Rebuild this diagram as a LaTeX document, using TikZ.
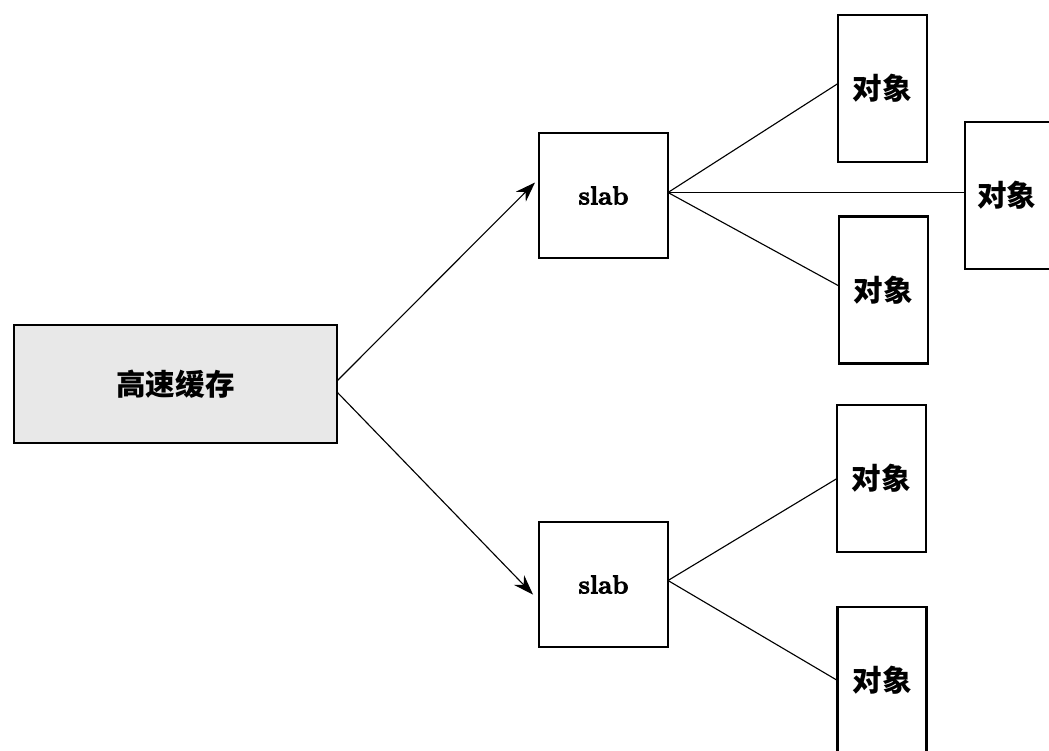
\documentclass[tikz,border=0pt]{standalone}
\usepackage{fontspec}
\newfontfamily\cjk{Noto Sans CJK SC}
\newcommand{\heavytext}[1]{\special{pdf:literal direct 2 Tr 0.6 w}#1\special{pdf:literal direct 0 Tr 0 w}}
\usetikzlibrary{calc,arrows.meta}
\begin{document}
\begin{tikzpicture}[x=0.025cm,y=-0.025cm,
  box/.style={draw=black,line width=1.8pt,inner sep=0pt,outer sep=0pt},
  cachebox/.style={box,fill=black!9,minimum width=323*0.025cm,minimum height=118*0.025cm,font=\cjk\bfseries\fontsize{21}{26}\selectfont},
  slabbox/.style={box,fill=white,minimum width=129*0.025cm,minimum height=125*0.025cm,font=\bfseries\fontsize{18.4}{22}\selectfont},
  objbox/.style={box,fill=white,minimum width=89*0.025cm,minimum height=147*0.025cm,font=\cjk\bfseries\fontsize{21}{26}\selectfont},
  link/.style={line width=0.8pt},
  arr/.style={line width=0.8pt,-{Stealth[length=20*0.025cm,width=14*0.025cm]}}]
\useasboundingbox (0,0) rectangle (1049,750);
\clip (0,0) rectangle (1049,750);
\node[cachebox] (cache) at (175.5,384) {高速缓存};
\node[slabbox] (s1) at (603.5,195.5) {\heavytext{slab}};
\node[slabbox] (s2) at (603.5,584.5) {\heavytext{slab}};
\node[objbox] (o1) at (882.5,88.5) {对象};
\node[objbox] (o2) at (1009.5,195.5) {\hspace*{-2\pgflinewidth}对象};
\node[objbox] (o3) at (883.5,290) {对象};
\node[objbox] (o4) at (881.5,478.5) {对象};
\node[objbox] (o5) at (882,680.5) {对象};
\coordinate (c1) at ($(cache.east)+(0,-3)$);
\coordinate (c2) at ($(cache.east)+(0,8)$);
\coordinate (t1) at ($(s1.west)+(-4,-13)$);
\coordinate (t2) at ($(s2.west)+(-6,10)$);
\draw[arr] (c1) -- (t1);
\draw[arr] (c2) -- (t2);
\coordinate (e1) at ($(s1.east)+(0,-3)$);
\coordinate (e2) at ($(s2.east)+(0,-4)$);
\draw[link] (e1) -- ($(o1.west)+(0,-5)$);
\draw[link] (e1) -- (e1 -| o2.west);
\draw[link] (e1) -- ($(o3.west)+(0,-4)$);
\draw[link] (e2) -- (o4.west);
\draw[link] (e2) -- (o5.west);
\end{tikzpicture}
\end{document}
